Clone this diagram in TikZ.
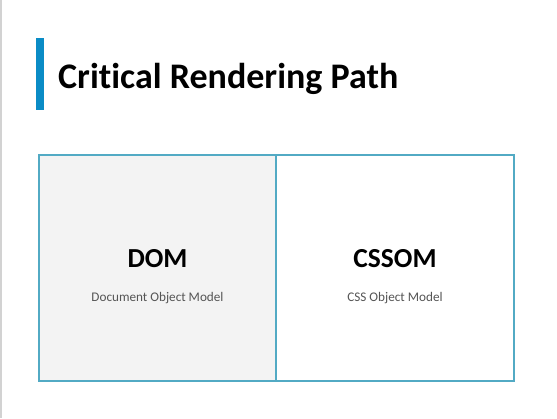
\documentclass[tikz,border=0pt]{standalone}
\usepackage{fontspec}
\setmainfont[Ligatures=NoCommon]{Carlito}
\usetikzlibrary{positioning}

\definecolor{barblue}{HTML}{0A8CC6}
\definecolor{boxline}{HTML}{52AAC4}
\definecolor{boxfill}{HTML}{F3F3F3}
\definecolor{subgray}{HTML}{555555}

\tikzset{
  heading/.style={font=\bfseries\fontsize{27.5}{32}\selectfont, text=black, inner sep=0pt},
  subline/.style={font=\fontsize{13.2}{16}\selectfont, text=subgray, inner sep=0pt}
}

\begin{document}
\begin{tikzpicture}[x=1pt, y=-1pt]
		% page
		\path[fill=white] (0,0) rectangle (557,418);
		\useasboundingbox (0,0) rectangle (557,418);
		\path[fill=gray!35] (0,0) rectangle (2,418);
		
		% title bar
		\path[fill=barblue] (36,38) rectangle (44,110);
		\node[anchor=base west, inner sep=0pt, font=\bfseries\fontsize{36}{42}\selectfont] (title) at (58,88) {Critical Rendering Path};
		
		% boxes
		\draw[boxline, line width=1.3pt, fill=boxfill] (39,155) rectangle (276,381);
		\draw[boxline, line width=1.3pt, fill=white] (276,155) rectangle (514,381);
		
		% box texts
		\node[heading, anchor=base] (dom) at (157.5,267) {DOM};
		\node[subline, below=34pt of dom.base, anchor=base] (domsub) {Document Object Model};
		\node[heading, anchor=base] (cssom) at (395,267) {CSSOM};
		\node[subline, below=34pt of cssom.base, anchor=base] (cssomsub) {CSS Object Model};
	\end{tikzpicture}
\end{document}
